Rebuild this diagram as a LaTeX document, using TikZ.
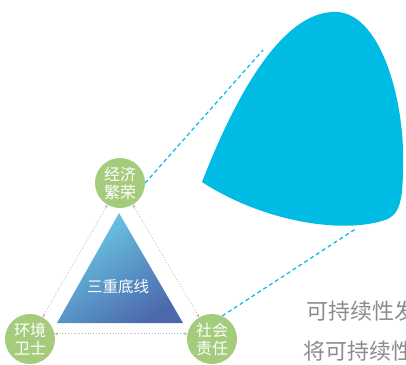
\documentclass[tikz,border=0pt]{standalone}
\usepackage{fontspec}
\newfontfamily\cjk{Noto Sans CJK SC}
\usetikzlibrary{arrows.meta}
\definecolor{leaf}{RGB}{165,203,125}
\definecolor{sky}{RGB}{0,188,228}
\definecolor{trilight}{RGB}{108,205,232}
\definecolor{tridark}{RGB}{75,105,172}
\definecolor{txtgray}{RGB}{140,140,140}
\tikzset{
  pillar/.style={circle, fill=leaf, minimum size=50pt, inner sep=0pt, text=white, align=center, font=\cjk\fontsize{16}{18}\selectfont},
  link/.style={draw=gray!60, dotted, line width=0.8pt, {Stealth[length=3.5pt,width=3pt]}-{Stealth[length=3.5pt,width=3pt]}},
  callout/.style={draw=sky, dash pattern=on 4pt off 3pt, line width=1.2pt},
  body/.style={text=txtgray, font=\cjk\fontsize{22}{26}\selectfont, anchor=west, inner sep=0pt}
}
\begin{document}
\begin{tikzpicture}[x=1pt,y=-1pt]
\useasboundingbox (0,0) rectangle (406,364);
% blob
\fill[sky] (202,182) .. controls (228,115) and (275,15) .. (332,12)
  .. controls (380,8) and (405,100) .. (403,165)
  .. controls (403,200) and (400,215) .. (385,220)
  .. controls (340,235) and (260,220) .. (202,182) -- cycle;
% triangle
\shade[top color=trilight, bottom color=tridark, shading angle=35]
  (119,213) -- (57,323) -- (183,323) -- cycle;
\node[text=white, font=\cjk\fontsize{15.5}{18}\selectfont] (core) at (118,287) {三重底线};
% pillars
\node[pillar] (eco) at (120,183) {经济\\繁荣};
\node[pillar] (env) at (30,339) {环境\\卫士};
\node[pillar] (soc) at (212,339) {社会\\责任};
% links
\draw[link] (eco) -- (env);
\draw[link] (eco) -- (soc);
\draw[link] (env.12) -- (soc.168);
% callouts
\coordinate (c1) at (263,50);
\coordinate (c2) at (357,228);
\draw[callout] (eco.0) -- (c1);
\draw[callout] (soc.66) -- (c2);
% text, cut at the right edge as in the reference
\begin{scope}
\clip (0,0) rectangle (406,364);
\node[body] (t1) at (306,311) {可持续性发展};
\node[body] (t2) at (303,351) {将可持续性};
\end{scope}
\end{tikzpicture}
\end{document}
